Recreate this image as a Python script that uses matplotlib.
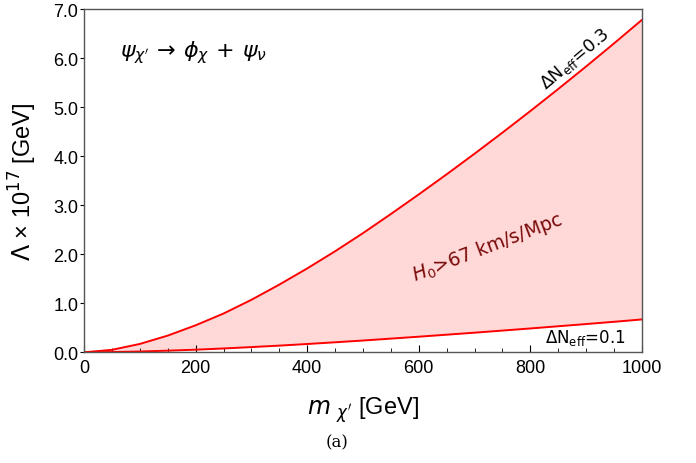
import numpy as np
import matplotlib
matplotlib.use('Agg')
import matplotlib.pyplot as plt
from matplotlib.ticker import MultipleLocator

# mass grid [GeV] and the two Delta N_eff boundaries (Lambda in 1e17 GeV)
m_chi = [0, 50, 100, 150, 200, 250, 300, 350, 400, 450, 500,
         550, 600, 650, 700, 750, 800, 850, 900, 950, 1000]
lam_03 = [0.0, 0.05, 0.17, 0.34, 0.55, 0.79, 1.07, 1.38, 1.71, 2.06, 2.43,
          2.82, 3.22, 3.63, 4.05, 4.48, 4.92, 5.37, 5.83, 6.30, 6.78]
lam_01 = [0.0, 0.005, 0.016, 0.033, 0.053, 0.078, 0.106, 0.136, 0.169, 0.204, 0.240,
          0.279, 0.318, 0.359, 0.400, 0.443, 0.486, 0.531, 0.576, 0.622, 0.670]

yticks = [0, 1, 2, 3, 4, 5, 6, 7]
xticks = [0, 200, 400, 600, 800, 1000]

plt.rcParams['font.family'] = ['Liberation Sans', 'DejaVu Sans']

fig = plt.figure(figsize=(6.96, 4.64), dpi=100)
ax = fig.add_axes([0.1207, 0.2386, 0.8017, 0.7398])

ax.fill_between(m_chi, lam_01, lam_03, color='#ffd8d8', lw=0)
ax.plot(m_chi, lam_03, color='red', lw=1.4)
ax.plot(m_chi, lam_01, color='red', lw=1.4)

ax.set_xlim(0, 1000)
ax.set_ylim(0, 7)
ax.set_xticks(xticks)
ax.set_yticks(yticks)
ax.set_yticklabels(['{:.1f}'.format(v) for v in yticks])
ax.xaxis.set_minor_locator(MultipleLocator(50))
ax.tick_params(axis='x', which='both', direction='in', labelsize=13, pad=5)
ax.tick_params(axis='x', which='major', length=5)
ax.tick_params(axis='x', which='minor', length=3)
ax.tick_params(axis='y', direction='out', labelsize=13, length=3, pad=1)
for s in ax.spines.values():
    s.set_color('#555555')
    s.set_linewidth(1.0)

ax.set_xlabel(r"$m$ $_{\chi'}$ [GeV]", fontsize=17, labelpad=13)
ax.set_ylabel(r'$\Lambda$ × 10$^{17}$ [GeV]', fontsize=17, labelpad=10)

ax.text(0.065, 0.877, r"$\psi_{\chi'}\,\rightarrow\,\phi_{\chi}\,+\,\psi_{\nu}$",
        transform=ax.transAxes, fontsize=16, ha='left', va='center')
ax.text(880, 6.0, r'$\Delta$N$_{\mathrm{eff}}$=0.3', rotation=40, fontsize=12.5,
        ha='center', va='center', family='DejaVu Sans')
ax.text(898, 0.31, r'$\Delta$N$_{\mathrm{eff}}$=0.1', rotation=0, fontsize=12,
        ha='center', va='center', family='DejaVu Sans')
ax.text(722, 2.15, r'$H_0$>67 km/s/Mpc', rotation=21, fontsize=13.5,
        color='#7a0a0a', ha='center', va='center', family='DejaVu Sans')

fig.text(0.484, 0.045, '(a)', fontsize=12, family='DejaVu Serif',
         ha='center', va='center')

fig.savefig('out.png', dpi=100)
